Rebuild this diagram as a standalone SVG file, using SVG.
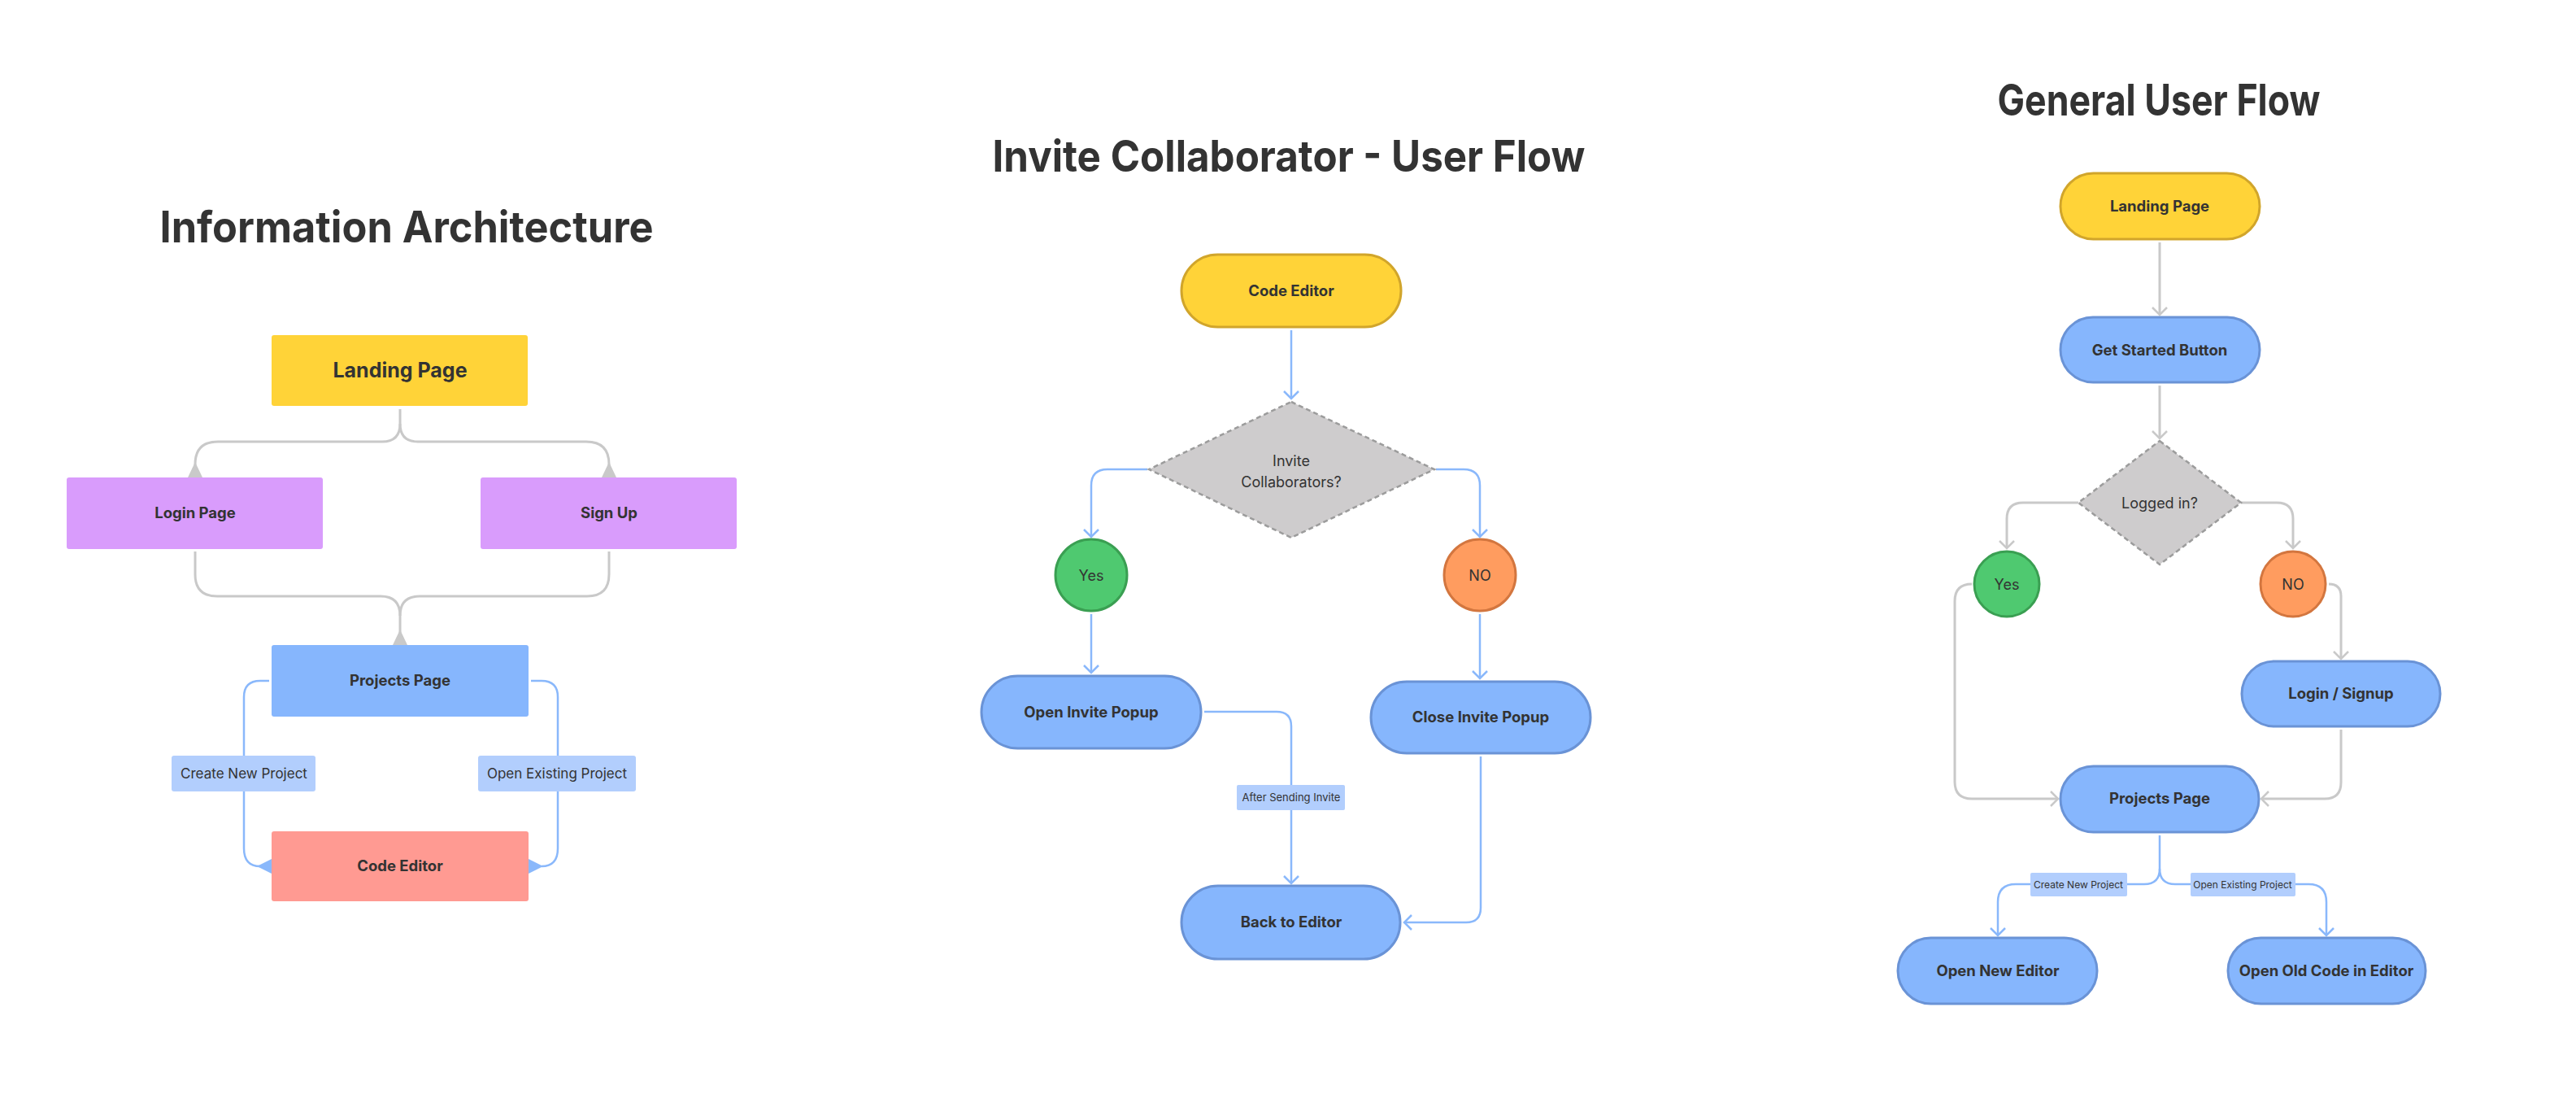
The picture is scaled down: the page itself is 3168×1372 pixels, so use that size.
<svg xmlns="http://www.w3.org/2000/svg" width="3168" height="1372" viewBox="0 0 3168 1372">
<style>
text{font-family:Inter,"Liberation Sans",Arial,sans-serif;fill:#333333}
.title{font-size:54px;font-weight:700}
.b{font-weight:700;font-size:18.5px}
.r{font-weight:400;font-size:18px}
.sm{font-weight:400;font-size:13px}
.xs{font-weight:400;font-size:12px}
.yel{fill:#FFD338}
.pur{fill:#D99CFC}
.blu{fill:#86B6FD}
.red{fill:#FF9A92}
.lbl{fill:#B2CEFD}
.pyel{fill:#FFD338;stroke:#D1A52B;stroke-width:3}
.pblu{fill:#86B6FD;stroke:#6A93D6;stroke-width:3}
.grn{fill:#4FC970;stroke:#3A9F52;stroke-width:3}
.org{fill:#FF9C5F;stroke:#D3763F;stroke-width:3}
.dia{fill:#CECCCD;stroke:#9C9C9C;stroke-width:2.5;stroke-dasharray:6 4}
.cg{fill:none;stroke:#C9C9C9;stroke-width:3}
.cb{fill:none;stroke:#8AB8FB;stroke-width:2.5}
.tg{fill:#C9C9C9}
.tb{fill:#8AB8FB}
</style>
<defs>
<marker id="chevB" viewBox="-12 -12 14 24" markerWidth="14" markerHeight="24" refX="0" refY="0" orient="auto" markerUnits="userSpaceOnUse"><path d="M-9,-9 L0,0 L-9,9" fill="none" stroke="#8AB8FB" stroke-width="2.5"/></marker>
<marker id="chevG" viewBox="-12 -12 14 24" markerWidth="14" markerHeight="24" refX="0" refY="0" orient="auto" markerUnits="userSpaceOnUse"><path d="M-9,-9 L0,0 L-9,9" fill="none" stroke="#C9C9C9" stroke-width="2.5"/></marker>
</defs>
<rect width="3168" height="1372" fill="#FFFFFF"/>

<g id="titles">
<text class="title" x="500" y="298" text-anchor="middle" textLength="607" lengthAdjust="spacingAndGlyphs">Information Architecture</text>
<text class="title" x="1585" y="211" text-anchor="middle" textLength="729" lengthAdjust="spacingAndGlyphs">Invite Collaborator - User Flow</text>
<text class="title" x="2655" y="142" text-anchor="middle" textLength="397" lengthAdjust="spacingAndGlyphs">General User Flow</text>
</g>

<g id="connectors">
<!-- Information Architecture -->
<path class="cg" d="M492,503 V521 Q492,543 470,543 H268 Q240,543 240,571 V580"/>
<path class="cg" d="M492,521 Q492,543 514,543 H721 Q749,543 749,571 V580"/>
<polygon class="tg" points="231,587 249,587 240,568"/>
<polygon class="tg" points="740,587 758,587 749,568"/>
<path class="cg" d="M240,678 V706 Q240,733 267,733 H468 Q492,733 492,757 V786"/>
<path class="cg" d="M749,678 V706 Q749,733 722,733 H516 Q492,733 492,757"/>
<polygon class="tg" points="483,793 501,793 492,774"/>
<path class="cb" d="M331,837 H320 Q300,837 300,857 V1043 Q300,1065 320,1065"/>
<polygon class="tb" points="334,1056 334,1074 316,1065"/>
<path class="cb" d="M653,837 H666 Q686,837 686,857 V1043 Q686,1065 666,1065"/>
<polygon class="tb" points="650,1056 650,1074 668,1065"/>

<!-- Invite Collaborator -->
<path class="cb" d="M1588,406 V490" marker-end="url(#chevB)"/>
<path class="cb" d="M1411,577 H1362 Q1342,577 1342,597 V660" marker-end="url(#chevB)"/>
<path class="cb" d="M1766,577 H1800 Q1820,577 1820,597 V660" marker-end="url(#chevB)"/>
<path class="cb" d="M1342,755 V827" marker-end="url(#chevB)"/>
<path class="cb" d="M1820,755 V834" marker-end="url(#chevB)"/>
<path class="cb" d="M1481,875 H1570 Q1588,875 1588,893 V1086" marker-end="url(#chevB)"/>
<path class="cb" d="M1821,930 V1116 Q1821,1134 1803,1134 H1727" marker-end="url(#chevB)"/>

<!-- General User Flow -->
<path class="cg" d="M2656,298 V387" marker-end="url(#chevG)"/>
<path class="cg" d="M2656,474 V539" marker-end="url(#chevG)"/>
<path class="cg" d="M2556,618 H2488 Q2468,618 2468,638 V674" marker-end="url(#chevG)"/>
<path class="cg" d="M2756,618 H2800 Q2820,618 2820,638 V674" marker-end="url(#chevG)"/>
<path class="cg" d="M2425,718 Q2404,718 2404,739 V961 Q2404,982 2425,982 H2531" marker-end="url(#chevG)"/>
<path class="cg" d="M2864,718 Q2879,718 2879,733 V810" marker-end="url(#chevG)"/>
<path class="cg" d="M2879,897 V962 Q2879,982 2859,982 H2781" marker-end="url(#chevG)"/>
<path class="cb" d="M2656,1027 V1068 Q2656,1087 2637,1087 H2479 Q2457,1087 2457,1109 V1150" marker-end="url(#chevB)"/>
<path class="cb" d="M2656,1068 Q2656,1087 2675,1087 H2839 Q2861,1087 2861,1109 V1150" marker-end="url(#chevB)"/>
</g>

<!-- Information Architecture nodes -->
<g id="ia-landing"><rect class="yel" x="334" y="412" width="315" height="87" rx="3"/><text x="492" y="464" text-anchor="middle" style="font-size:25px;font-weight:700">Landing Page</text></g>
<g id="ia-login"><rect class="pur" x="82" y="587" width="315" height="88" rx="3"/><text class="b" x="240" y="637" text-anchor="middle">Login Page</text></g>
<g id="ia-signup"><rect class="pur" x="591" y="587" width="315" height="88" rx="3"/><text class="b" x="749" y="637" text-anchor="middle">Sign Up</text></g>
<g id="ia-projects"><rect class="blu" x="334" y="793" width="316" height="88" rx="3"/><text class="b" x="492" y="843" text-anchor="middle">Projects Page</text></g>
<g id="ia-editor"><rect class="red" x="334" y="1022" width="316" height="86" rx="3"/><text class="b" x="492" y="1071" text-anchor="middle">Code Editor</text></g>
<g id="ia-lbl-create"><rect class="lbl" x="211" y="929" width="177" height="44" rx="3"/><text x="300" y="957" text-anchor="middle" style="font-size:17px">Create New Project</text></g>
<g id="ia-lbl-open"><rect class="lbl" x="588" y="929" width="194" height="44" rx="3"/><text x="685" y="957" text-anchor="middle" style="font-size:17px">Open Existing Project</text></g>

<!-- Invite Collaborator nodes -->
<g id="ic-editor"><rect class="pyel" x="1453" y="313" width="270" height="89" rx="44.5"/><text class="b" x="1588" y="364" text-anchor="middle">Code Editor</text></g>
<g id="ic-decision"><polygon class="dia" points="1588,494 1764,577 1588,661 1413,577"/><text class="r" x="1588" y="573" text-anchor="middle">Invite</text><text class="r" x="1588" y="599" text-anchor="middle">Collaborators?</text></g>
<g id="ic-yes"><circle class="grn" cx="1342" cy="707" r="44"/><text class="r" x="1342" y="714" text-anchor="middle">Yes</text></g>
<g id="ic-no"><circle class="org" cx="1820" cy="707" r="44"/><text class="r" x="1820" y="714" text-anchor="middle">NO</text></g>
<g id="ic-open"><rect class="pblu" x="1207" y="831" width="270" height="89" rx="44.5"/><text class="b" x="1342" y="882" text-anchor="middle">Open Invite Popup</text></g>
<g id="ic-close"><rect class="pblu" x="1686" y="838" width="270" height="88" rx="44"/><text class="b" x="1821" y="888" text-anchor="middle">Close Invite Popup</text></g>
<g id="ic-lbl-after"><rect class="lbl" x="1521" y="965" width="133" height="31" rx="2"/><text class="sm" x="1588" y="985" text-anchor="middle">After Sending Invite</text></g>
<g id="ic-back"><rect class="pblu" x="1453" y="1089" width="269" height="90" rx="45"/><text class="b" x="1588" y="1140" text-anchor="middle">Back to Editor</text></g>

<!-- General User Flow nodes -->
<g id="gu-landing"><rect class="pyel" x="2534" y="213" width="245" height="81" rx="40.5"/><text class="b" x="2656" y="260" text-anchor="middle">Landing Page</text></g>
<g id="gu-getstarted"><rect class="pblu" x="2534" y="390" width="245" height="80" rx="40"/><text class="b" x="2656" y="437" text-anchor="middle">Get Started Button</text></g>
<g id="gu-decision"><polygon class="dia" points="2656,542 2756,618 2656,694 2556,618"/><text class="r" x="2656" y="625" text-anchor="middle">Logged in?</text></g>
<g id="gu-yes"><circle class="grn" cx="2468" cy="718" r="40"/><text class="r" x="2468" y="725" text-anchor="middle">Yes</text></g>
<g id="gu-no"><circle class="org" cx="2820" cy="718" r="40"/><text class="r" x="2820" y="725" text-anchor="middle">NO</text></g>
<g id="gu-login"><rect class="pblu" x="2757" y="813" width="244" height="80" rx="40"/><text class="b" x="2879" y="859" text-anchor="middle">Login / Signup</text></g>
<g id="gu-projects"><rect class="pblu" x="2534" y="942" width="244" height="81" rx="40.5"/><text class="b" x="2656" y="988" text-anchor="middle">Projects Page</text></g>
<g id="gu-lbl-create"><rect class="lbl" x="2497" y="1073" width="119" height="29" rx="2"/><text class="xs" x="2556" y="1092" text-anchor="middle">Create New Project</text></g>
<g id="gu-lbl-open"><rect class="lbl" x="2694" y="1073" width="129" height="29" rx="2"/><text class="xs" x="2758" y="1092" text-anchor="middle">Open Existing Project</text></g>
<g id="gu-new"><rect class="pblu" x="2334" y="1153" width="245" height="81" rx="40.5"/><text class="b" x="2457" y="1200" text-anchor="middle">Open New Editor</text></g>
<g id="gu-old"><rect class="pblu" x="2740" y="1153" width="243" height="81" rx="40.5"/><text class="b" x="2861" y="1200" text-anchor="middle">Open Old Code in Editor</text></g>
</svg>
